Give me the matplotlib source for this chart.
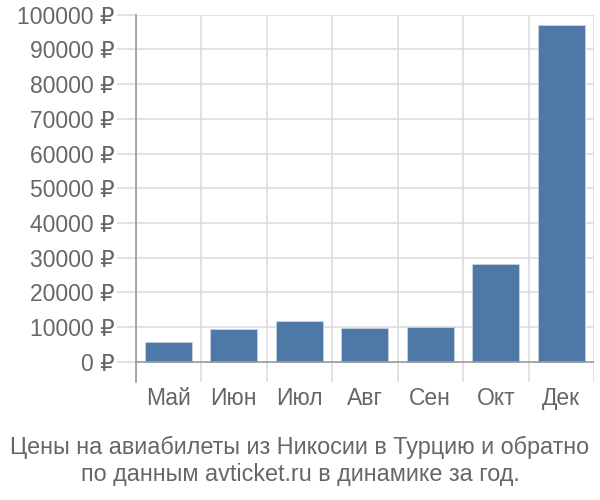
import numpy as np
import matplotlib
matplotlib.use("Agg")
import matplotlib.pyplot as plt

plt.rcParams['font.family'] = ['Liberation Sans', 'DejaVu Sans']

months = ['Май', 'Июн', 'Июл', 'Авг', 'Сен', 'Окт', 'Дек']
prices = [5600, 9400, 11700, 9600, 10100, 28100, 96900]
yticks = list(range(0, 100001, 10000))
title = 'Цены на авиабилеты из Никосии в Турцию и обратно\nпо данным avticket.ru в динамике за год.'

fig = plt.figure(figsize=(6, 5), dpi=100)
ax = fig.add_axes([0.226, 0.2366, 0.764, 0.734])

x = np.arange(len(months))
ax.bar(x, prices, width=0.72, color='#4e78a6', edgecolor='#c5d3e3', linewidth=0.6, zorder=3)

ax.set_xlim(-0.5, len(months) - 0.5)
ax.set_ylim(-5760, 100000)

# horizontal grid + ticks
ax.set_yticks(yticks)
ax.set_yticklabels([f'{v} ₽' for v in yticks])
for v in yticks[1:]:
    ax.axhline(v, color='#dddddd', linewidth=1.2, zorder=1)
ax.axhline(0, color='#9a9a9a', linewidth=1.2, zorder=4)

# vertical boundaries
for b in np.arange(-0.5, len(months), 1.0):
    ax.axvline(b, color='#dddddd', linewidth=1.2, zorder=1)

ax.set_xticks(x)
ax.set_xticklabels(months)

for s in ['top', 'right', 'bottom']:
    ax.spines[s].set_visible(False)
ax.spines['left'].set_color('#9a9a9a')
ax.spines['left'].set_linewidth(1.2)

ax.tick_params(axis='y', length=14, width=1.2, color='#dddddd', pad=1,
               labelsize=16.5, labelcolor='#666666')
ax.tick_params(axis='x', length=0, pad=4, labelsize=16.5, labelcolor='#666666')

fig.text(0.5, 0.078, title, ha='center', va='center', fontsize=16.8,
         color='#666666', linespacing=1.25)

fig.savefig('out.png', dpi=100)
